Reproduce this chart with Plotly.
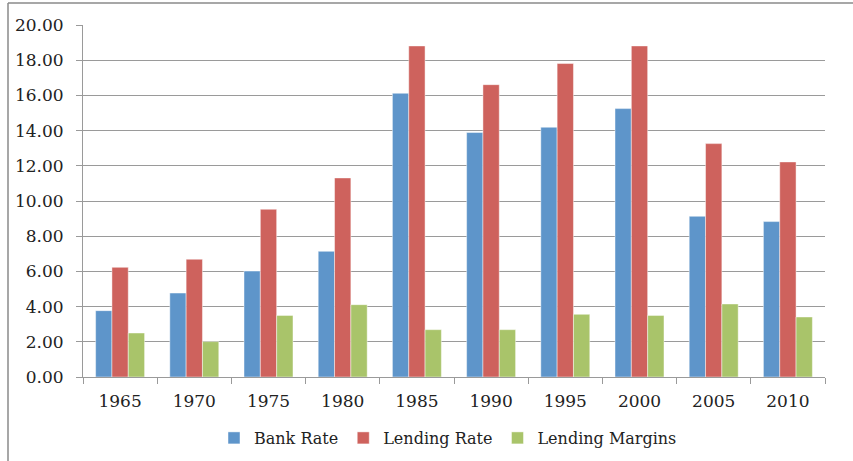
import plotly.graph_objects as go

years = ["1965", "1970", "1975", "1980", "1985", "1990", "1995", "2000", "2005", "2010"]
bank_rate = [3.77, 4.77, 6.02, 7.14, 16.12, 13.89, 14.19, 15.25, 9.13, 8.83]
lending_rate = [6.23, 6.69, 9.53, 11.31, 18.81, 16.61, 17.81, 18.81, 13.26, 12.22]
lending_margins = [2.50, 2.01, 3.50, 4.11, 2.69, 2.69, 3.56, 3.50, 4.15, 3.41]
y_ticks = [0, 2, 4, 6, 8, 10, 12, 14, 16, 18, 20]

FONT = "DejaVu Serif"
series = [
    ("Bank Rate", bank_rate, "#5E95CA"),
    ("Lending Rate", lending_rate, "#CE625D"),
    ("Lending Margins", lending_margins, "#A9C46A"),
]

fig = go.Figure()
for name, vals, col in series:
    fig.add_trace(go.Bar(
        x=years, y=vals, name=name,
        marker=dict(color=col, line=dict(color="rgba(255,255,255,0.45)", width=1)),
    ))

L, R, T, B = 83, 28, 25, 84
W, H = 853, 461
pw, ph = W - L - R, H - T - B

def px_x(p):
    return (p - L) / pw

def px_y(p):
    return (H - B - p) / ph

fig.update_layout(
    width=W, height=H,
    margin=dict(l=L, r=R, t=T, b=B),
    paper_bgcolor="white", plot_bgcolor="white",
    barmode="group", bargap=0.34, bargroupgap=0,
    font=dict(family=FONT, size=16, color="#222222"),
    showlegend=True,
    legend=dict(
        orientation="h", xref="container", yref="container",
        x=448 / W, xanchor="center", y=(H - 438) / H, yanchor="middle",
        font=dict(family=FONT, size=16, color="#222222"),
        itemwidth=30, tracegroupgap=0,
    ),
    xaxis=dict(
        type="category", showgrid=False, showline=True, linecolor="#9a9a9a", linewidth=1,
        ticks="outside", tickson="boundaries", ticklen=6, tickcolor="#9a9a9a",
        ticklabelstandoff=9, automargin=False,
        tickfont=dict(family=FONT, size=17, color="#222222"),
    ),
    yaxis=dict(
        range=[0, 20], tickvals=y_ticks, tickformat=".2f",
        showgrid=True, gridcolor="#9a9a9a", gridwidth=1,
        showline=True, linecolor="#9a9a9a", linewidth=1,
        ticks="outside", ticklen=6, tickcolor="#9a9a9a",
        ticklabelstandoff=9, automargin=False,
        tickfont=dict(family=FONT, size=17, color="#222222"),
        zeroline=False,
    ),
    shapes=[
        dict(type="line", xref="paper", yref="paper", x0=px_x(8), x1=px_x(853), y0=px_y(3), y1=px_y(3),
             line=dict(color="#8a8a8a", width=1.5)),
        dict(type="line", xref="paper", yref="paper", x0=px_x(8), x1=px_x(8), y0=px_y(3), y1=px_y(461),
             line=dict(color="#8a8a8a", width=1.5)),
    ],
)

fig.write_html("out.html", config={"displayModeBar": False},
               post_script="document.body.style.margin='0';")
